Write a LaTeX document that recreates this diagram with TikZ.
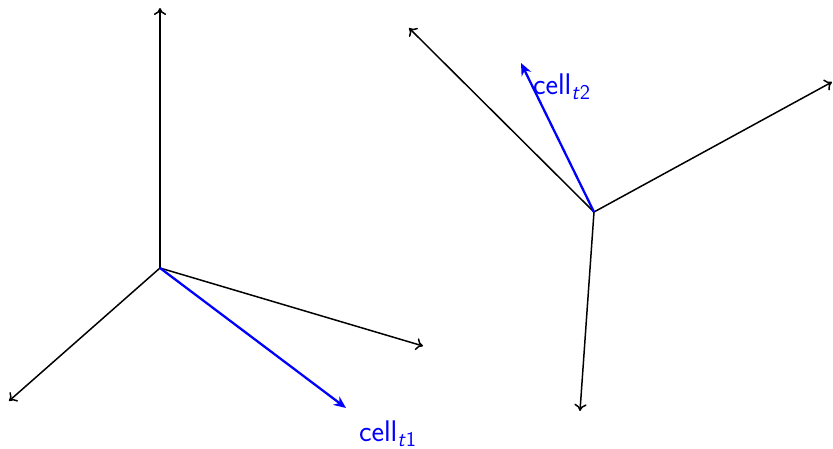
\documentclass[tikz,border=0pt]{standalone}
\usetikzlibrary{arrows.meta}
\begin{document}
\begin{tikzpicture}[x=0.02cm,y=-0.02cm,
  axis/.style={draw=black,line width=0.85pt,-{To[length=4pt,width=7pt]}},
  cellvec/.style={draw=blue,line width=1.3pt,-{Stealth[length=7pt,width=6pt]}},
  lbl/.style={text=blue,font=\sffamily\fontsize{17}{20}\selectfont,inner sep=0pt}]
\useasboundingbox (0,0) rectangle (833,449);
% left frame
\coordinate (o1) at (160,268);
\coordinate (a1) at (160,8);
\coordinate (b1) at (9,401);
\coordinate (c1) at (423,346);
\coordinate (d1) at (346,408);
\draw[axis] (o1) -- (a1);
\draw[axis] (o1) -- (b1);
\draw[axis] (o1) -- (c1);
\draw[cellvec] (o1) -- (d1);
\node[lbl] (l1) at (388,434) {cell\textsubscript{\textit{t}1}};
% right frame
\coordinate (o2) at (594,212);
\coordinate (a2) at (409,28);
\coordinate (b2) at (832,82);
\coordinate (c2) at (580,411);
\coordinate (d2) at (521,63);
\draw[axis] (o2) -- (a2);
\draw[axis] (o2) -- (b2);
\draw[axis] (o2) -- (c2);
\draw[cellvec] (o2) -- (d2);
\node[lbl] (l2) at (562,87) {cell\textsubscript{\textit{t}2}};
\end{tikzpicture}
\end{document}
